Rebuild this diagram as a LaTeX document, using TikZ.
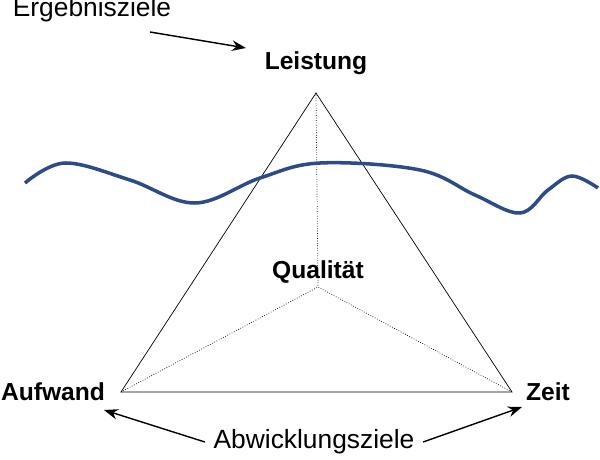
\documentclass[tikz,border=0pt]{standalone}
\usepackage{fontspec}
\setmainfont{Liberation Sans}
\usetikzlibrary{arrows.meta}
\definecolor{wavecol}{HTML}{2B4C89}
\tikzset{
  corner/.style={font=\fontsize{14}{16}\selectfont\bfseries, inner sep=1pt},
  goal/.style={font=\fontsize{15}{18}\selectfont, inner sep=1pt, outer sep=4pt},
  arrow/.style={thick,-{Stealth[length=8pt,width=6pt]}},
  helper/.style={densely dotted, thin}
}
\begin{document}
\begin{tikzpicture}[x=0.02cm,y=-0.02cm]
\useasboundingbox (0,0) rectangle (600,460);

% Dreieck
\coordinate (top) at (316,93);
\coordinate (left) at (121,392);
\coordinate (right) at (512,392);
\coordinate (mid) at (318,287);
\draw (top) -- (left) -- (right) -- cycle;
\draw [helper] (top) -- (mid);
\draw [helper] (left) -- (mid) -- (right);

% Welle
\draw [wavecol, line width=2pt] plot [smooth, tension=0.6] coordinates
  {(25,183) (65,163) (130,180) (195,203) (260,178) (320,163) (420,170) (475,195) (520,213) (548,190) (572,176) (598,188)};

% Beschriftungen
\node (leistung) [corner] at (316,63) {Leistung};
\node (qualitaet) [corner] at (318,272) {Qualität};
\node (aufwand) [corner] at (53,392) {Aufwand};
\node (zeit) [corner] at (548,392) {Zeit};
\node (ergebnis) [goal] at (92,10) {Ergebnisziele};
\node (abwicklung) [goal] at (314,442) {Abwicklungsziele};
\coordinate (ergstart) at (150,32);
\coordinate (ergtip) at (246,48);
\coordinate (aufwtip) at (104,410);
\coordinate (zeittip) at (522,407);

% Pfeile
\draw [arrow] (ergstart) -- (ergtip);
\draw [arrow] (abwicklung.west) -- (aufwtip);
\draw [arrow] (abwicklung.east) -- (zeittip);
\end{tikzpicture}
\end{document}
